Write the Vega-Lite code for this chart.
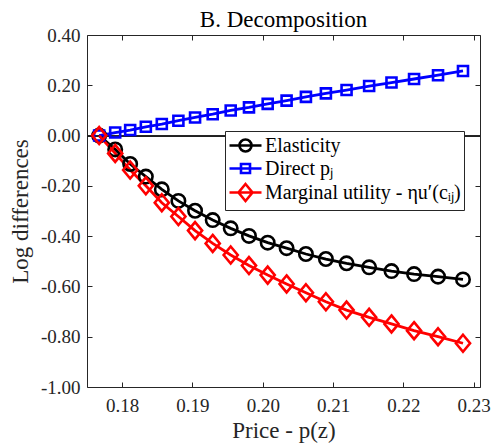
{
  "$schema": "https://vega.github.io/schema/vega-lite/v6.json",
  "width": 393,
  "height": 352,
  "autosize": "none",
  "padding": {"left": 87, "top": 35, "right": 14, "bottom": 56},
  "background": "white",
  "title": {"text": "B. Decomposition", "font": "Liberation Serif", "fontSize": 23, "fontWeight": "normal", "color": "#000000", "offset": -6},
  "config": {
    "view": {"stroke": "#262626", "strokeWidth": 1},
    "axis": {
      "labelFont": "Liberation Serif", "titleFont": "Liberation Serif",
      "labelFontSize": 19, "titleFontSize": 23, "titleFontWeight": "normal",
      "labelColor": "#262626", "titleColor": "#262626",
      "domainColor": "#262626", "tickColor": "#262626",
      "gridColor": "#e6e6e6", "gridWidth": 1
    },
    "legend": {
      "labelFont": "Liberation Serif", "labelFontSize": 20, "labelColor": "#000000", "labelLimit": 400
    }
  },
  "data": {"values": [
    {"s": "Elasticity", "p": 0.17673, "v": 0.0},
    {"s": "Elasticity", "p": 0.17901, "v": -0.055},
    {"s": "Elasticity", "p": 0.18114, "v": -0.113},
    {"s": "Elasticity", "p": 0.18337, "v": -0.163},
    {"s": "Elasticity", "p": 0.18564, "v": -0.214},
    {"s": "Elasticity", "p": 0.18800, "v": -0.260},
    {"s": "Elasticity", "p": 0.19037, "v": -0.299},
    {"s": "Elasticity", "p": 0.19288, "v": -0.336},
    {"s": "Elasticity", "p": 0.19544, "v": -0.369},
    {"s": "Elasticity", "p": 0.19804, "v": -0.399},
    {"s": "Elasticity", "p": 0.20070, "v": -0.426},
    {"s": "Elasticity", "p": 0.20339, "v": -0.448},
    {"s": "Elasticity", "p": 0.20614, "v": -0.471},
    {"s": "Elasticity", "p": 0.20898, "v": -0.491},
    {"s": "Elasticity", "p": 0.21192, "v": -0.508},
    {"s": "Elasticity", "p": 0.21513, "v": -0.524},
    {"s": "Elasticity", "p": 0.21831, "v": -0.539},
    {"s": "Elasticity", "p": 0.22152, "v": -0.551},
    {"s": "Elasticity", "p": 0.22493, "v": -0.561},
    {"s": "Elasticity", "p": 0.22848, "v": -0.572},
    {"s": "Direct pⱼ", "p": 0.17673, "v": 0.0},
    {"s": "Direct pⱼ", "p": 0.17901, "v": 0.012},
    {"s": "Direct pⱼ", "p": 0.18114, "v": 0.022},
    {"s": "Direct pⱼ", "p": 0.18337, "v": 0.035},
    {"s": "Direct pⱼ", "p": 0.18564, "v": 0.046},
    {"s": "Direct pⱼ", "p": 0.18800, "v": 0.059},
    {"s": "Direct pⱼ", "p": 0.19037, "v": 0.072},
    {"s": "Direct pⱼ", "p": 0.19288, "v": 0.085},
    {"s": "Direct pⱼ", "p": 0.19544, "v": 0.100},
    {"s": "Direct pⱼ", "p": 0.19804, "v": 0.112},
    {"s": "Direct pⱼ", "p": 0.20070, "v": 0.126},
    {"s": "Direct pⱼ", "p": 0.20339, "v": 0.139},
    {"s": "Direct pⱼ", "p": 0.20614, "v": 0.154},
    {"s": "Direct pⱼ", "p": 0.20898, "v": 0.168},
    {"s": "Direct pⱼ", "p": 0.21192, "v": 0.181},
    {"s": "Direct pⱼ", "p": 0.21513, "v": 0.197},
    {"s": "Direct pⱼ", "p": 0.21831, "v": 0.211},
    {"s": "Direct pⱼ", "p": 0.22152, "v": 0.225},
    {"s": "Direct pⱼ", "p": 0.22493, "v": 0.240},
    {"s": "Direct pⱼ", "p": 0.22848, "v": 0.257},
    {"s": "Marginal utility - ηu′(cᵢⱼ)", "p": 0.17673, "v": 0.0},
    {"s": "Marginal utility - ηu′(cᵢⱼ)", "p": 0.17901, "v": -0.071},
    {"s": "Marginal utility - ηu′(cᵢⱼ)", "p": 0.18114, "v": -0.137},
    {"s": "Marginal utility - ηu′(cᵢⱼ)", "p": 0.18337, "v": -0.200},
    {"s": "Marginal utility - ηu′(cᵢⱼ)", "p": 0.18564, "v": -0.267},
    {"s": "Marginal utility - ηu′(cᵢⱼ)", "p": 0.18800, "v": -0.322},
    {"s": "Marginal utility - ηu′(cᵢⱼ)", "p": 0.19037, "v": -0.378},
    {"s": "Marginal utility - ηu′(cᵢⱼ)", "p": 0.19288, "v": -0.429},
    {"s": "Marginal utility - ηu′(cᵢⱼ)", "p": 0.19544, "v": -0.475},
    {"s": "Marginal utility - ηu′(cᵢⱼ)", "p": 0.19804, "v": -0.517},
    {"s": "Marginal utility - ηu′(cᵢⱼ)", "p": 0.20070, "v": -0.555},
    {"s": "Marginal utility - ηu′(cᵢⱼ)", "p": 0.20339, "v": -0.590},
    {"s": "Marginal utility - ηu′(cᵢⱼ)", "p": 0.20614, "v": -0.625},
    {"s": "Marginal utility - ηu′(cᵢⱼ)", "p": 0.20898, "v": -0.661},
    {"s": "Marginal utility - ηu′(cᵢⱼ)", "p": 0.21192, "v": -0.694},
    {"s": "Marginal utility - ηu′(cᵢⱼ)", "p": 0.21513, "v": -0.723},
    {"s": "Marginal utility - ηu′(cᵢⱼ)", "p": 0.21831, "v": -0.749},
    {"s": "Marginal utility - ηu′(cᵢⱼ)", "p": 0.22152, "v": -0.776},
    {"s": "Marginal utility - ηu′(cᵢⱼ)", "p": 0.22493, "v": -0.800},
    {"s": "Marginal utility - ηu′(cᵢⱼ)", "p": 0.22848, "v": -0.826}
  ]},
  "resolve": {"axis": {"x": "independent", "y": "independent"}},
  "layer": [
    {
      "mark": {"type": "rule", "color": "#262626", "strokeWidth": 1},
      "encoding": {
        "x": {"datum": 0.175, "type": "quantitative", "scale": {"domain": [0.175, 0.2309], "nice": false, "zero": false},
              "axis": {"orient": "top", "labels": false, "title": null, "grid": false, "domain": false, "values": [0.18, 0.19, 0.2, 0.21, 0.22, 0.23], "tickSize": -5}},
        "x2": {"datum": 0.2309},
        "y": {"datum": 0, "type": "quantitative", "scale": {"domain": [-1, 0.4], "nice": false, "zero": false},
              "axis": {"orient": "right", "labels": false, "title": null, "grid": false, "domain": false, "values": [-1, -0.8, -0.6, -0.4, -0.2, 0, 0.2, 0.4], "tickSize": -5}}
      }
    },
    {
      "layer": [
        {
          "mark": {"type": "line", "strokeWidth": 2.8},
          "encoding": {
            "x": {"field": "p", "type": "quantitative", "scale": {"domain": [0.175, 0.2309], "nice": false, "zero": false},
                  "axis": {"orient": "bottom", "title": "Price - p(z)", "format": ".2f", "values": [0.18, 0.19, 0.2, 0.21, 0.22, 0.23], "tickSize": -5, "labelPadding": 14, "titlePadding": 4, "domain": false}},
            "y": {"field": "v", "type": "quantitative", "scale": {"domain": [-1, 0.4], "nice": false, "zero": false},
                  "axis": {"orient": "left", "title": "Log differences", "labelExpr": "replace(format(datum.value, '.2f'), '\u2212', '-')", "values": [-1, -0.8, -0.6, -0.4, -0.2, 0, 0.2, 0.4], "tickSize": -5, "labelPadding": 12, "titlePadding": 8, "domain": false}},
            "color": {"field": "s", "type": "nominal", "sort": null,
                      "scale": {"domain": ["Elasticity", "Direct pⱼ", "Marginal utility - ηu′(cᵢⱼ)"], "range": ["#000000", "#0000ff", "#ff0000"]},
                      "legend": {"title": null, "orient": "none", "legendX": 138, "legendY": 96,
                                 "fillColor": "white", "strokeColor": "#262626", "padding": 3,
                                 "symbolSize": 400, "symbolStrokeWidth": 2.6, "symbolFillColor": "transparent",
                                 "rowPadding": -1, "labelOffset": 14,
                                 "encode": {"symbols": {"update": {"shape": {"signal": "datum.value == 'Elasticity' ? 'M-1,0L2.2,0M1.2,0A0.6,0.6 0 1,1 0,0A0.6,0.6 0 1,1 1.2,0Z' : (indexof(datum.value, 'Direct') == 0 ? 'M-1,0L2.2,0M0.15,-0.45L1.05,-0.45L1.05,0.45L0.15,0.45Z' : 'M-1,0L2.2,0M0.6,-0.85L1.3,0L0.6,0.85L-0.1,0Z')"}}}}}},
            "detail": {"field": "s"}
          }
        },
        {
          "mark": {"type": "point", "filled": false, "strokeWidth": 2.6, "opacity": 1},
          "encoding": {
            "x": {"field": "p", "type": "quantitative"},
            "y": {"field": "v", "type": "quantitative"},
            "color": {"field": "s", "type": "nominal", "sort": null,
                      "scale": {"domain": ["Elasticity", "Direct pⱼ", "Marginal utility - ηu′(cᵢⱼ)"], "range": ["#000000", "#0000ff", "#ff0000"]},
                      "legend": {"title": null, "orient": "none", "legendX": 138, "legendY": 96,
                                 "fillColor": "white", "strokeColor": "#262626", "padding": 3,
                                 "symbolSize": 400, "symbolStrokeWidth": 2.6, "symbolFillColor": "transparent",
                                 "rowPadding": -1, "labelOffset": 14,
                                 "encode": {"symbols": {"update": {"shape": {"signal": "datum.value == 'Elasticity' ? 'M-1,0L2.2,0M1.2,0A0.6,0.6 0 1,1 0,0A0.6,0.6 0 1,1 1.2,0Z' : (indexof(datum.value, 'Direct') == 0 ? 'M-1,0L2.2,0M0.15,-0.45L1.05,-0.45L1.05,0.45L0.15,0.45Z' : 'M-1,0L2.2,0M0.6,-0.85L1.3,0L0.6,0.85L-0.1,0Z')"}}}}}},
            "shape": {"condition": [{"test": "datum.s == 'Elasticity'", "value": "circle"}, {"test": "indexof(datum.s, 'Direct') == 0", "value": "square"}], "value": "M0,-1.2L1,0L0,1.2L-1,0Z"},
            "size": {"condition": [{"test": "datum.s == 'Elasticity'", "value": 180}, {"test": "indexof(datum.s, 'Direct') == 0", "value": 100}], "value": 200}
          }
        }
      ]
    }
  ]
}
